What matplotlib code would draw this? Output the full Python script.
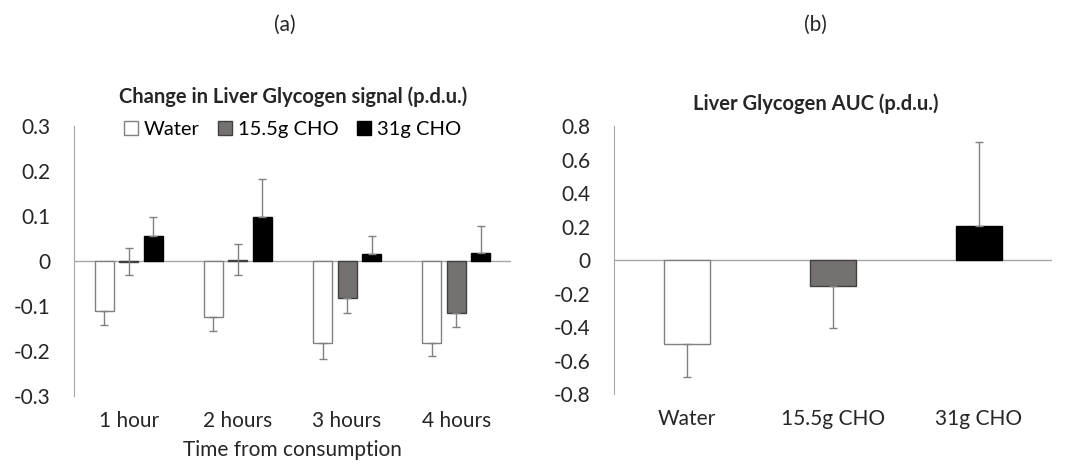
import numpy as np
import matplotlib.pyplot as plt

plt.rcParams['font.family'] = ['Lato', 'DejaVu Sans']

# 데이터
hours = ['1 hour', '2 hours', '3 hours', '4 hours']
water = [-0.111, -0.124, -0.183, -0.181]
water_err = [0.030, 0.032, 0.034, 0.030]
cho15 = [-0.001, 0.003, -0.083, -0.116]
cho15_err = [0.030, 0.035, 0.032, 0.031]
cho31 = [0.056, 0.099, 0.015, 0.019]
cho31_err = [0.042, 0.084, 0.040, 0.058]

groups = ['Water', '15.5g CHO', '31g CHO']
auc = [-0.50, -0.152, 0.205]
auc_err = [0.20, 0.254, 0.50]

white_edge = '#808080'
gray_fill = '#767171'
err_col = '#808080'
axis_col = '#a6a6a6'
txt = '#262626'
fs = 15

fig = plt.figure(figsize=(10.86, 4.76), dpi=100)

# (a) 시간별 변화
ax1 = fig.add_axes([0.0681, 0.168, 0.4024, 0.567])
x = np.arange(len(hours))
w = 0.174
off = 0.224
ekw = dict(ecolor=err_col, elinewidth=1, capsize=3, capthick=1)

def one_side(vals, errs):
    lo = [e if v < 0 else 0 for v, e in zip(vals, errs)]
    hi = [e if v >= 0 else 0 for v, e in zip(vals, errs)]
    return [lo, hi]

# 0 근처 값은 양쪽 오차막대
c15_err = [[e, e] if abs(v) < 0.01 else ([e, 0] if v < 0 else [0, e]) for v, e in zip(cho15, cho15_err)]
c15_err = np.array(c15_err).T

ax1.bar(x - off, water, w, color='white', edgecolor=white_edge, linewidth=1,
        yerr=one_side(water, water_err), error_kw=ekw, label='Water', zorder=3)
ax1.bar(x, cho15, w, color=gray_fill, edgecolor='#404040', linewidth=1,
        yerr=c15_err, error_kw=ekw, label='15.5g CHO', zorder=3)
ax1.bar(x + off, cho31, w, color='black', edgecolor='black', linewidth=1,
        yerr=one_side(cho31, cho31_err), error_kw=ekw, label='31g CHO', zorder=3)

ax1.set_xlim(-0.5, 3.5)
ax1.set_ylim(-0.3, 0.3)
ax1.set_yticks([-0.3, -0.2, -0.1, 0, 0.1, 0.2, 0.3])
ax1.set_yticklabels(['-0.3', '-0.2', '-0.1', '0', '0.1', '0.2', '0.3'])
ax1.set_xticks(x)
ax1.set_xticklabels(hours)
ax1.axhline(0, color=axis_col, linewidth=1, zorder=2)
for s in ['top', 'right', 'bottom']:
    ax1.spines[s].set_visible(False)
ax1.spines['left'].set_color(axis_col)
ax1.tick_params(length=0, labelsize=fs, colors=txt)
ax1.tick_params(axis='x', pad=11)
ax1.tick_params(axis='y', pad=17)
ax1.set_xlabel('Time from consumption', fontsize=fs, color=txt, labelpad=6)
ax1.legend(loc='upper center', bbox_to_anchor=(0.5, 1.085), ncol=3, frameon=False,
           fontsize=14.5, handlelength=0.7, handleheight=0.7, handletextpad=0.3,
           columnspacing=0.9)
fig.text(0.27, 1 - 97 / 476, 'Change in Liver Glycogen signal (p.d.u.)', ha='center', va='center',
         fontsize=14.5, fontweight='bold', color=txt)

# (b) AUC
ax2 = fig.add_axes([0.5654, 0.172, 0.4033, 0.563])
x2 = np.arange(len(groups))
w2 = 0.315
ax2.bar(x2, auc, w2, color=['white', gray_fill, 'black'],
        edgecolor=[white_edge, '#404040', 'black'], linewidth=1,
        yerr=one_side(auc, auc_err), error_kw=ekw, zorder=3)
ax2.set_xlim(-0.5, 2.5)
ax2.set_ylim(-0.8, 0.8)
ax2.set_yticks([-0.8, -0.6, -0.4, -0.2, 0, 0.2, 0.4, 0.6, 0.8])
ax2.set_yticklabels(['-0.8', '-0.6', '-0.4', '-0.2', '0', '0.2', '0.4', '0.6', '0.8'])
ax2.set_xticks(x2)
ax2.set_xticklabels(groups)
ax2.axhline(0, color=axis_col, linewidth=1, zorder=2)
for s in ['top', 'right', 'bottom']:
    ax2.spines[s].set_visible(False)
ax2.spines['left'].set_color(axis_col)
ax2.tick_params(length=0, labelsize=fs, colors=txt)
ax2.tick_params(axis='x', pad=11)
ax2.tick_params(axis='y', pad=17)
fig.text(816 / 1086, 1 - 104 / 476, 'Liver Glycogen AUC (p.d.u.)', ha='center', va='center',
         fontsize=14.5, fontweight='bold', color=txt)

fig.text(285 / 1086, 1 - 25 / 476, '(a)', ha='center', va='center', fontsize=fs, color=txt)
fig.text(815 / 1086, 1 - 25 / 476, '(b)', ha='center', va='center', fontsize=fs, color=txt)

plt.savefig('out.png', dpi=100)
